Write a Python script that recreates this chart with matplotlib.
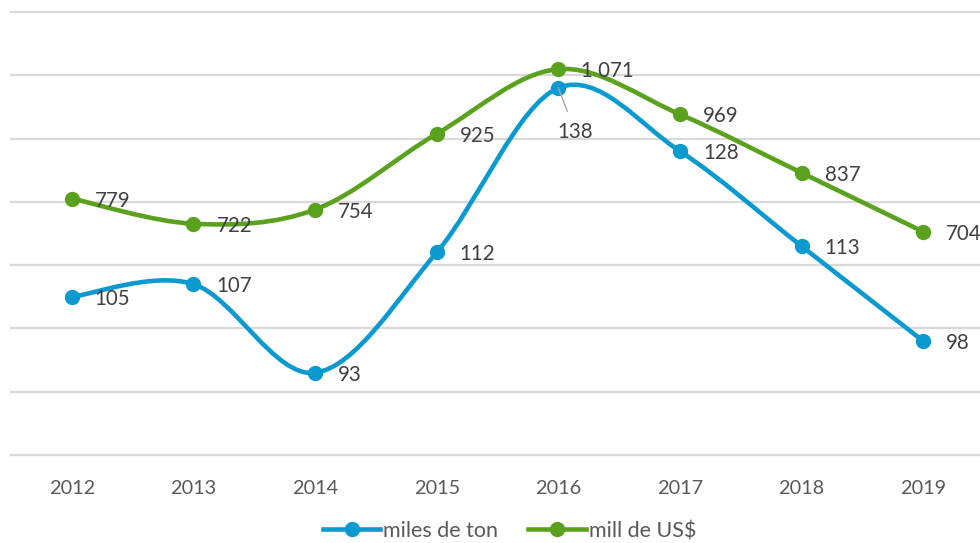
import matplotlib.pyplot as plt
from matplotlib.path import Path
from matplotlib.patches import PathPatch
from matplotlib.lines import Line2D

# данные с картинки
years = ["2012", "2013", "2014", "2015", "2016", "2017", "2018", "2019"]
miles_ton = [105, 107, 93, 112, 138, 128, 113, 98]
mill_usd = [779, 722, 754, 925, 1071, 969, 837, 704]
labels_ton = ["105", "107", "93", "112", "138", "128", "113", "98"]
labels_usd = ["779", "722", "754", "925", "1 071", "969", "837", "704"]

blue = "#0A9AD0"
green = "#5AA21D"
txt = "#404040"

plt.rcParams["font.family"] = ["Lato", "DejaVu Sans"]


def smooth_path(xs, ys):
    # сглаживание как в Excel: кривые Безье через точки (Catmull-Rom)
    pts = list(zip(xs, ys))
    n = len(pts)
    verts = [pts[0]]
    codes = [Path.MOVETO]
    for i in range(n - 1):
        p0 = pts[i - 1] if i > 0 else pts[i]
        p1 = pts[i]
        p2 = pts[i + 1]
        p3 = pts[i + 2] if i + 2 < n else pts[i + 1]
        c1 = (p1[0] + (p2[0] - p0[0]) / 6, p1[1] + (p2[1] - p0[1]) / 6)
        c2 = (p2[0] - (p3[0] - p1[0]) / 6, p2[1] - (p3[1] - p1[1]) / 6)
        verts += [c1, c2, p2]
        codes += [Path.CURVE4] * 3
    return Path(verts, codes)


fig = plt.figure(figsize=(9.8, 5.43), dpi=100)
ax = fig.add_axes([11 / 980, 1 - 455 / 543, 973 / 980, 443 / 543])
ax2 = ax.twinx()

x = list(range(len(years)))

ax.set_xlim(-0.5, len(years) - 0.5)
ax.set_ylim(80, 150)
ax.set_yticks(range(80, 151, 10))
ax2.set_ylim(200, 1200)
ax2.set_yticks([])

ax.yaxis.grid(True, color="#D9D9D9", linewidth=1.6)
for gl in ax.get_ygridlines():
    gl.set_clip_on(False)
ax.set_axisbelow(True)
ax.tick_params(axis="y", left=False, labelleft=False)
ax.tick_params(axis="x", length=0, pad=18, labelsize=14.3, labelcolor="#595959")
ax.set_xticks(x)
ax.set_xticklabels(years)
for a in (ax, ax2):
    for s in a.spines.values():
        s.set_visible(False)

lw = 3.3
ax.add_patch(PathPatch(smooth_path(x, miles_ton), facecolor="none",
                       edgecolor=blue, linewidth=lw, capstyle="round"))
ax.plot(x, miles_ton, linestyle="none", marker="o", markersize=10, color=blue)

ax2.add_patch(PathPatch(smooth_path(x, mill_usd), facecolor="none",
                        edgecolor=green, linewidth=lw, capstyle="round"))
ax2.plot(x, mill_usd, linestyle="none", marker="o", markersize=10, color=green)

fs = 14.8
for i, (v, s) in enumerate(zip(miles_ton, labels_ton)):
    if i == 4:
        ax.annotate(s, (i, v), xytext=(17, -44), textcoords="offset pixels",
                    ha="center", va="center", fontsize=fs, color=txt,
                    arrowprops=dict(arrowstyle="-", color="#A6A6A6", lw=1,
                                    shrinkA=6, shrinkB=0))
    else:
        ax.annotate(s, (i, v), xytext=(23, -2), textcoords="offset pixels",
                    ha="left", va="center", fontsize=fs, color=txt,
                    annotation_clip=False)

for i, (v, s) in enumerate(zip(mill_usd, labels_usd)):
    ax2.annotate(s, (i, v), xytext=(23, -2), textcoords="offset pixels",
                 ha="left", va="center", fontsize=fs, color=txt,
                 annotation_clip=False)

handles = [
    Line2D([], [], color=blue, linewidth=lw, marker="o", markersize=10),
    Line2D([], [], color=green, linewidth=lw, marker="o", markersize=10),
]
fig.legend(handles, ["miles de ton", "mill de US$"], loc="center",
           bbox_to_anchor=(0.52, 1 - 531 / 543), ncol=2, frameon=False,
           fontsize=15.5, labelcolor="#595959", handlelength=2.65,
           handletextpad=0.15, columnspacing=1.4)

fig.savefig("out.png", dpi=100)
